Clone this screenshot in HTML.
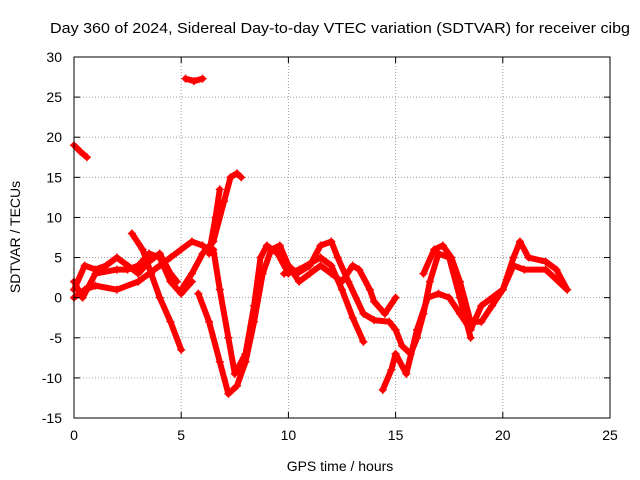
<!DOCTYPE html>
<html><head><meta charset="utf-8"><style>
html,body{margin:0;padding:0;background:#fff;}
svg{display:block;font-family:"Liberation Sans",sans-serif;}
</style></head><body>
<svg id="chart" width="640" height="480">
<text x="50" y="33" font-size="14.5" textLength="580" lengthAdjust="spacingAndGlyphs">Day 360 of 2024, Sidereal Day-to-day VTEC variation (SDTVAR) for receiver cibg</text>
<g id="grid"></g><g id="series"></g><g id="axes"></g>
<text x="340" y="471" font-size="14" text-anchor="middle">GPS time / hours</text>
<text transform="translate(20,237) rotate(-90)" font-size="14" text-anchor="middle">SDTVAR / TECUs</text>
</svg>
<script>
const xTicks=[0,5,10,15,20,25];
const yTicks=[-15,-10,-5,0,5,10,15,20,25,30];
const trackA=[[0,19],[0.3,18.2],[0.6,17.5]];
const trackB=[[5.2,27.3],[5.6,27],[6,27.3]];
const trackC=[[2.7,8],[3.2,6],[3.6,3],[4,0],[4.5,-3],[5,-6.5]];
const trackD=[[5.8,0.5],[6.3,-3],[6.8,-8],[7.2,-12],[7.6,-11],[8,-8],[8.4,-3],[8.8,3],[9.2,6],[9.6,6.5],[10,4],[10.4,3],[11,4],[11.5,6.5],[12,7],[12.3,5],[12.8,2],[13.5,-2],[14,-2.8],[14.7,-3],[15,-4],[15.3,-6],[15.7,-7],[16,-5],[16.3,-2],[16.6,2],[17,5.5],[17.5,5],[18,0],[18.5,-5]];
const trackE=[[5,1],[5.5,3],[6,5.5],[6.5,7],[7,12],[7.3,15],[7.6,15.5],[7.8,15]];
const trackF=[[6.5,6],[6.8,1],[7.2,-5],[7.5,-9.5],[8,-7],[8.4,-1],[8.7,5],[9,6.5],[9.5,5.5],[10,3]];
const trackG=[[6.3,5.5],[6.6,10],[6.8,13.5]];
const trackH=[[16.3,3],[16.8,6],[17.2,6.5],[17.6,5],[18,2],[18.5,-3],[19,-3],[19.5,-1],[20,1],[20.5,5],[20.8,7],[21.2,5],[22,4.5],[22.5,3.5],[23,1]];
const trackI=[[14.4,-11.5],[14.8,-9],[15,-7],[15.5,-9.5],[16,-4],[16.5,0],[17,0.5],[17.5,0],[18,-2],[18.5,-4],[19,-1],[20,1],[20.5,4],[21,3.5],[22,3.5],[23,1]];
const trackJ=[[0,1],[0.5,4],[1,3.5],[1.5,4],[2,5],[2.5,4],[3,3],[3.5,4.5],[4,5.5],[4.5,3],[4.8,2]];
const trackK=[[0,0],[0.5,1],[1,1.5],[2,1],[3,2],[3.5,3],[4,4],[4.5,5],[5,6],[5.5,7],[6,6.5],[6.5,5.5]];
const trackL=[[0,2],[0.4,0],[1,3],[2,3.5],[2.5,3.5],[3,4],[3.5,5.5],[4,5],[4.5,2],[5,0.5],[5.5,2]];
const trackM=[[10,4],[10.5,2],[11,3],[11.5,4],[12,3],[12.5,2],[13,4],[13.3,3.5],[13.8,1],[14,-0.5],[14.5,-2],[15,0]];
const trackN=[[9.8,3],[10.5,3.5],[11.5,5],[12,4],[12.5,1],[13,-2.5],[13.5,-5.5]];
const tracks=[trackA,trackB,trackC,trackD,trackE,trackF,trackG,trackH,trackI,trackJ,trackK,trackL,trackM,trackN];
const X0=74,X1=610,Y0=418,Y1=57;
const sx=v=>X0+(v-0)/(25-0)*(X1-X0);
const sy=v=>Y0-(v+15)/(30+15)*(Y0-Y1);
const NS='http://www.w3.org/2000/svg';
function mk(t,a,p){const e=document.createElementNS(NS,t);for(const k in a)e.setAttribute(k,a[k]);p.appendChild(e);return e;}
const grid=document.getElementById('grid'),axes=document.getElementById('axes'),ser=document.getElementById('series');
xTicks.forEach(t=>{const x=sx(t);
 if(t>0&&t<25){const l=mk('line',{x1:x,x2:x,y1:Y1,y2:Y0,stroke:'#a0a0a0','stroke-dasharray':'1,2'},grid);
 
 }
 mk('line',{x1:x,x2:x,y1:Y0,y2:Y0-6,stroke:'#000'},axes);
 mk('line',{x1:x,x2:x,y1:Y1,y2:Y1+6,stroke:'#000'},axes);
 const tx=mk('text',{x:x,y:Y0+22,'font-size':14,'text-anchor':'middle'},axes);tx.textContent=t;
 
 });
yTicks.forEach(t=>{const y=sy(t);
 if(t>-15&&t<30){const l=mk('line',{x1:X0,x2:X1,y1:y,y2:y,stroke:'#a0a0a0','stroke-dasharray':'1,2'},grid);
 
 }
 mk('line',{x1:X0,x2:X0+6,y1:y,y2:y,stroke:'#000'},axes);
 mk('line',{x1:X1,x2:X1-6,y1:y,y2:y,stroke:'#000'},axes);
 const tx=mk('text',{x:X0-12,y:y+5,'font-size':14,'text-anchor':'end'},axes);tx.textContent=t;
 
 });
const fr=mk('rect',{x:X0,y:Y1,width:X1-X0,height:Y0-Y1,fill:'none',stroke:'#000'},axes);


tracks.forEach(tr=>{
 const pl=mk('polyline',{points:tr.map(p=>sx(p[0])+','+sy(p[1])).join(' '),fill:'none',stroke:'#f00','stroke-width':6,'stroke-linejoin':'round','stroke-linecap':'round'},ser);
 
 
 tr.forEach(p=>{const x=sx(p[0]),y=sy(p[1]);
  const m=mk('path',{d:`M${x-4},${y}H${x+4}M${x},${y-4}V${y+4}`,stroke:'#f00','stroke-width':1.5},ser);
  
  });
});
</script>
</body></html>
